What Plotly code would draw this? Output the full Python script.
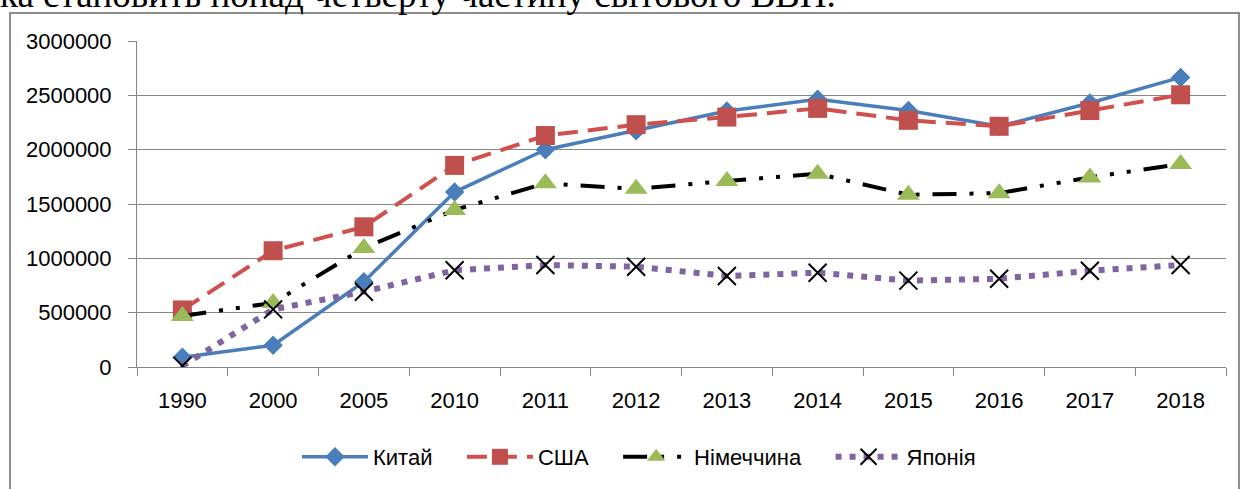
import plotly.graph_objects as go

years = ["1990", "2000", "2005", "2010", "2011", "2012", "2013", "2014", "2015", "2016", "2017", "2018"]
china = [90000, 200000, 785000, 1610000, 2000000, 2175000, 2355000, 2465000, 2360000, 2215000, 2430000, 2665000]
usa = [525000, 1070000, 1290000, 1855000, 2130000, 2230000, 2300000, 2380000, 2270000, 2215000, 2360000, 2505000]
germany = [470000, 590000, 1095000, 1445000, 1690000, 1640000, 1712000, 1778000, 1585000, 1600000, 1745000, 1868000]
japan = [10000, 530000, 693000, 890000, 938000, 923000, 838000, 868000, 795000, 812000, 886000, 938000]
y_ticks = [0, 500000, 1000000, 1500000, 2000000, 2500000, 3000000]
names = ["Китай", "США", "Німеччина", "Японія"]

FONT = "Liberation Sans"
PAD = "\u00a0" * 4

fig = go.Figure()
fig.add_trace(go.Scatter(
    x=years, y=china, name=names[0] + PAD, mode="lines+markers",
    line=dict(color="#4A7EBB", width=3.5),
    marker=dict(symbol="diamond", size=15, color="#4A7EBB"),
))
fig.add_trace(go.Scatter(
    x=years, y=usa, name=names[1] + PAD, mode="lines+markers",
    line=dict(color="#D0504D", width=4, dash="20px,10px"),
    marker=dict(symbol="square", size=19, color="#C0504D"),
))
fig.add_trace(go.Scatter(
    x=years, y=germany, name=names[2] + PAD, mode="lines+markers",
    line=dict(color="#000000", width=4, dash="24px,13px,4px,13px,4px,13px"),
    marker=dict(symbol="triangle-up", size=20, color="#9BBB59"),
))
fig.add_trace(go.Scatter(
    x=years, y=japan, name=names[3], mode="lines+markers",
    line=dict(color="#8064A2", width=6, dash="6px,8px"),
    marker=dict(symbol="x-thin-open", size=18, color="#000000",
                line=dict(color="#000000", width=2)),
))

fig.update_layout(
    width=1242, height=489,
    margin=dict(l=137, r=16, t=41, b=122, autoexpand=False),
    paper_bgcolor="white", plot_bgcolor="white",
    font=dict(family=FONT, size=22, color="#000000"),
    showlegend=True,
    legend=dict(orientation="h", xref="container", yref="container",
                x=297 / 1242, xanchor="left", y=(489 - 457) / 489, yanchor="middle",
                font=dict(family=FONT, size=22), itemwidth=66, traceorder="normal",
                bgcolor="rgba(0,0,0,0)"),
    xaxis=dict(
        type="category", categoryorder="array", categoryarray=years,
        showgrid=False, showline=True, linecolor="#868686", linewidth=1,
        ticks="outside", ticklen=8, tickcolor="#868686", tickson="boundaries",
        tickfont=dict(family=FONT, size=22), range=[-0.5, 11.5], automargin=False,
        ticklabelstandoff=14,
    ),
    yaxis=dict(
        range=[0, 3000000], tickvals=y_ticks, ticktext=[str(v) for v in y_ticks],
        showgrid=True, gridcolor="#868686", gridwidth=1,
        showline=True, linecolor="#868686", linewidth=1,
        ticks="outside", ticklen=8, tickcolor="#868686",
        tickfont=dict(family=FONT, size=22), zeroline=False, automargin=False,
        ticklabelstandoff=12,
    ),
    shapes=[dict(type="rect", xref="paper", yref="paper",
                 x0=-0.1166, x1=1.0119, y0=-0.6, y1=1.086,
                 line=dict(color="#8C8C8C", width=2), fillcolor="rgba(0,0,0,0)", layer="below")],
    annotations=[dict(text="ка становить понад четверту частину світового ВВП.",
                      xref="paper", yref="paper", x=-0.1275, xanchor="left",
                      y=1.0736, yanchor="bottom", showarrow=False,
                      font=dict(family="Liberation Serif", size=37, color="#000000"))],
)

fig.write_html("out.html", config={"displayModeBar": False},
               post_script="document.body.style.margin='0px';")
